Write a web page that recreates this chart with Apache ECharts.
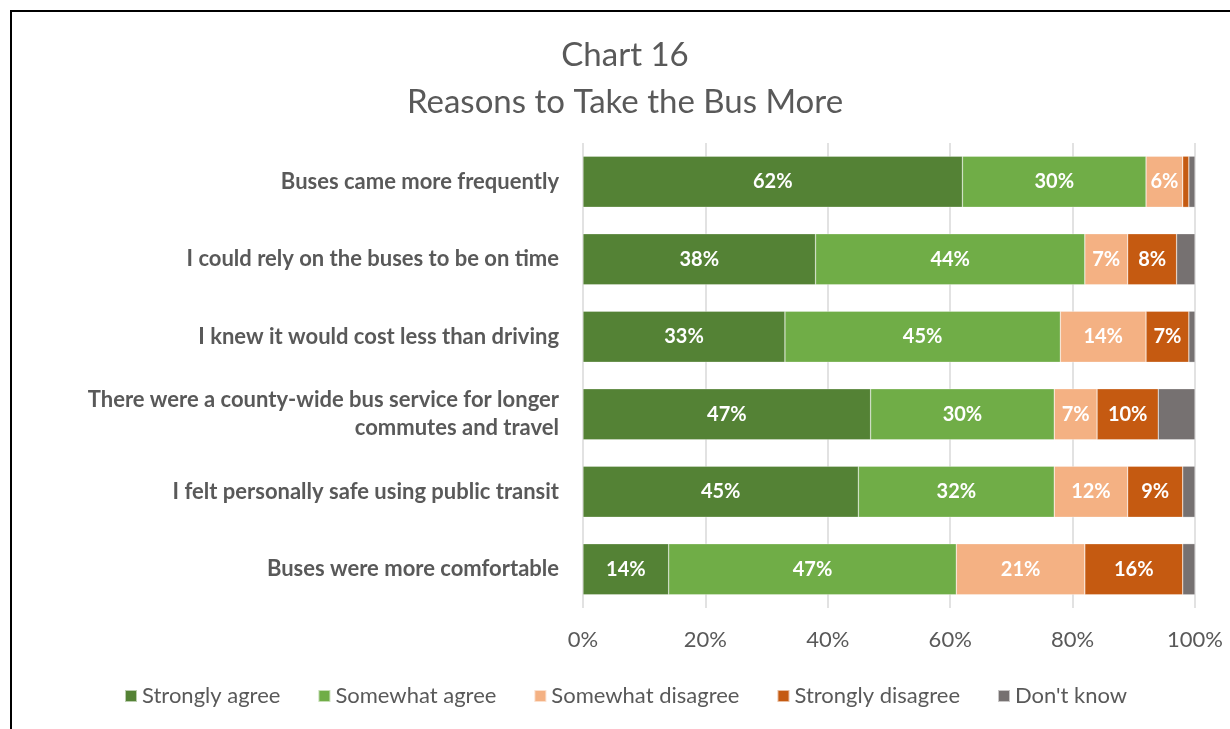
<!DOCTYPE html>
<html>
<head>
<meta charset="utf-8">
<script src="https://cdn.jsdelivr.net/npm/echarts@6/dist/echarts.min.js"></script>
<style>
  html, body { margin: 0; padding: 0; background: #fff; }
  #chart { width: 1230px; height: 729px; }
</style>
</head>
<body>
<div id="chart"></div>
<script>
// Survey statements (top to bottom)
const categories = [
  'Buses came more frequently',
  'I could rely on the buses to be on time',
  'I knew it would cost less than driving',
  'There were a county-wide bus service for longer\ncommutes and travel',
  'I felt personally safe using public transit',
  'Buses were more comfortable'
];

// Response shares in percent, one array per answer
const stronglyAgree    = [62, 38, 33, 47, 45, 14];
const somewhatAgree    = [30, 44, 45, 30, 32, 47];
const somewhatDisagree = [6, 7, 14, 7, 12, 21];
const stronglyDisagree = [1, 8, 7, 10, 9, 16];
const dontKnow         = [1, 3, 1, 6, 2, 2];

const seriesNames = ['Strongly agree', 'Somewhat agree', 'Somewhat disagree', 'Strongly disagree', "Don't know"];
const seriesColors = ['#548235', '#70AD47', '#F4B183', '#C55A11', '#767171'];
const seriesValues = [stronglyAgree, somewhatAgree, somewhatDisagree, stronglyDisagree, dontKnow];
const labelledSeries = [true, true, true, true, false];

const xTicks = [0, 20, 40, 60, 80, 100];

const FONT = 'Lato, "Open Sans", sans-serif';
const TEXT_GREY = '#595959';

const chart = echarts.init(document.getElementById('chart'), null, { renderer: 'canvas' });

const series = seriesNames.map((name, i) => ({
  name: name,
  type: 'bar',
  stack: 'total',
  data: seriesValues[i],
  barCategoryGap: '34%',
  itemStyle: { color: seriesColors[i], borderColor: 'rgba(255,255,255,0.6)', borderWidth: 0.5 },
  label: {
    show: labelledSeries[i],
    position: 'inside',
    color: '#fff',
    fontFamily: FONT,
    fontWeight: 'bold',
    fontSize: 20,
    formatter: p => (p.value >= 5 ? p.value + '%' : '')
  },
  emphasis: { disabled: true }
}));

chart.setOption({
  animation: false,
  backgroundColor: '#fff',
  textStyle: { fontFamily: FONT },
  grid: { left: 583, right: 35, top: 143, bottom: 121, containLabel: false },
  xAxis: {
    type: 'value',
    min: xTicks[0],
    max: xTicks[xTicks.length - 1],
    interval: 20,
    axisLine: { show: false },
    axisTick: { show: false },
    splitLine: { show: true, lineStyle: { color: '#d9d9d9', width: 1.5 } },
    axisLabel: {
      color: TEXT_GREY,
      fontFamily: FONT,
      fontSize: 22,
      margin: 21,
      formatter: v => v + '%'
    }
  },
  yAxis: {
    type: 'category',
    inverse: true,
    data: categories,
    axisLine: { show: false },
    axisTick: { show: false },
    axisLabel: {
      color: TEXT_GREY,
      fontFamily: FONT,
      fontWeight: 'bold',
      fontSize: 22,
      lineHeight: 28,
      margin: 24,
      align: 'right'
    }
  },
  legend: {
    left: 119,
    top: 680,
    itemWidth: 12,
    itemHeight: 12,
    itemGap: 37,
    icon: 'rect',
    textStyle: { color: TEXT_GREY, fontFamily: FONT, fontSize: 22 },
    data: seriesNames
  },
  graphic: [
    {
      type: 'text',
      x: 625,
      y: 39,
      style: {
        text: 'Chart 16',
        textAlign: 'center',
        fill: TEXT_GREY,
        font: '33px ' + FONT
      }
    },
    {
      type: 'text',
      x: 625,
      y: 86,
      style: {
        text: 'Reasons to Take the Bus More',
        textAlign: 'center',
        fill: TEXT_GREY,
        font: '33px ' + FONT
      }
    },
    {
      type: 'polyline',
      shape: { points: [[11, 729], [11, 11], [1230, 11]] },
      style: { stroke: '#000', lineWidth: 2, fill: null }
    }
  ],
  series: series
});
</script>
</body>
</html>
